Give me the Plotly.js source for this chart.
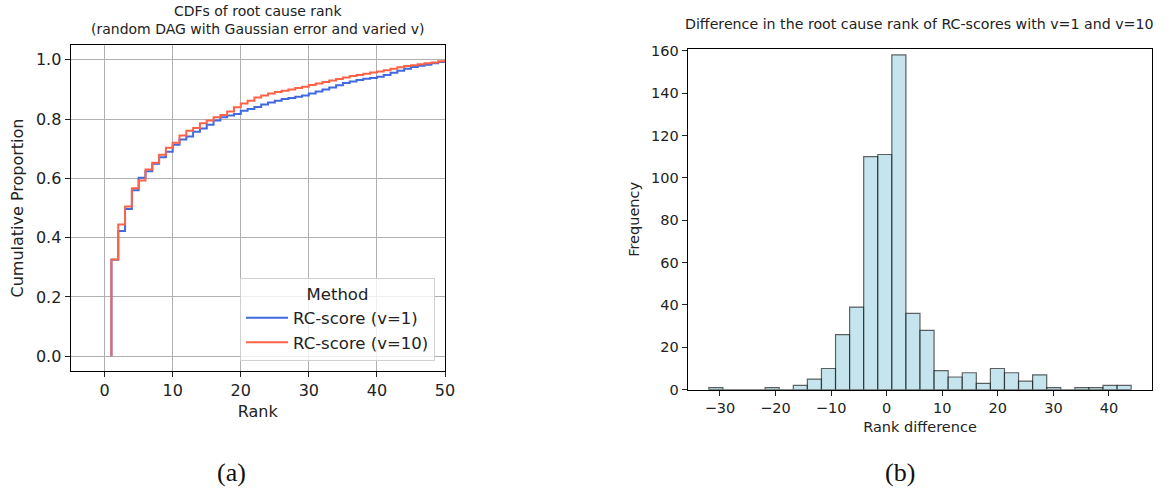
<!DOCTYPE html>
<html>
<head>
<meta charset="utf-8">
<script src="https://cdn.plot.ly/plotly-3.0.1.min.js"></script>
<style>
  html, body { margin: 0; padding: 0; background: #fff; }
  #chart { width: 1173px; height: 491px; }
</style>
</head>
<body>
<div id="chart"></div>
<script>
// Root cause rank (1..50) and empirical CDF for each RC-score setting
const ranks = [1, 2, 3, 4, 5, 6, 7, 8, 9, 10,
  11, 12, 13, 14, 15, 16, 17, 18, 19, 20,
  21, 22, 23, 24, 25, 26, 27, 28, 29, 30,
  31, 32, 33, 34, 35, 36, 37, 38, 39, 40,
  41, 42, 43, 44, 45, 46, 47, 48, 49, 50];

const cdfV1 = [0.325, 0.422, 0.497, 0.560, 0.602, 0.624, 0.649, 0.671, 0.690, 0.713,
  0.731, 0.741, 0.757, 0.768, 0.781, 0.795, 0.806, 0.812, 0.817, 0.828,
  0.834, 0.841, 0.849, 0.856, 0.862, 0.868, 0.871, 0.875, 0.880, 0.886,
  0.893, 0.900, 0.907, 0.914, 0.922, 0.927, 0.932, 0.936, 0.939, 0.943,
  0.949, 0.956, 0.963, 0.970, 0.976, 0.980, 0.983, 0.988, 0.993, 0.998];

const cdfV10 = [0.326, 0.444, 0.505, 0.567, 0.593, 0.630, 0.653, 0.680, 0.703, 0.720,
  0.745, 0.761, 0.770, 0.786, 0.795, 0.806, 0.814, 0.826, 0.840, 0.853,
  0.862, 0.873, 0.880, 0.886, 0.891, 0.896, 0.900, 0.905, 0.909, 0.915,
  0.920, 0.925, 0.930, 0.935, 0.940, 0.945, 0.949, 0.953, 0.957, 0.961,
  0.965, 0.970, 0.975, 0.979, 0.982, 0.985, 0.988, 0.991, 0.995, 1.000];

const seriesNames = ['RC-score (v=1)', 'RC-score (v=10)'];

// Histogram of rank differences: 30 equal bins between the min and max difference
const diffMin = -32;
const diffMax = 44;
const diffCounts = [1, 0, 0, 0, 1, 0, 2, 5, 10, 26,
  39, 110, 111, 158, 36, 28, 9, 6, 8, 3,
  10, 8, 4, 7, 1, 0, 1, 1, 2, 2];

const W = 1173, H = 491;
const px = v => v / W;
const py = v => 1 - v / H;

// ECDF drawn as a post-step line starting from zero at the first rank
function ecdfTrace(values, name, color) {
  return {
    type: 'scatter', mode: 'lines', name: name,
    x: [ranks[0]].concat(ranks),
    y: [0].concat(values),
    line: { shape: 'hv', color: color, width: 2 },
    xaxis: 'x', yaxis: 'y'
  };
}

const binWidth = (diffMax - diffMin) / diffCounts.length;
const binCenters = diffCounts.map((_, i) => diffMin + (i + 0.5) * binWidth);

const traces = [
  ecdfTrace(cdfV1, seriesNames[0], '#4169E1'),
  ecdfTrace(cdfV10, seriesNames[1], '#FF6347'),
  {
    type: 'bar', x: binCenters, y: diffCounts, width: binWidth,
    marker: { color: 'rgba(173,216,230,0.7)', line: { color: 'rgba(0,0,0,0.6)', width: 1.2 } },
    showlegend: false, xaxis: 'x2', yaxis: 'y2'
  }
];

const tickFont16 = { family: 'DejaVu Sans', size: 16, color: '#222' };
const tickFont14 = { family: 'DejaVu Sans', size: 14.5, color: '#222' };

const frame = {
  showline: true, mirror: true, linecolor: '#000', linewidth: 1,
  ticks: 'outside', ticklen: 5, tickwidth: 1, tickcolor: '#222',
  zeroline: false
};

const layout = {
  width: W, height: H,
  margin: { l: 0, r: 0, t: 0, b: 0 },
  paper_bgcolor: '#fff', plot_bgcolor: '#fff',
  font: { family: 'DejaVu Sans', color: '#222' },
  showlegend: true,
  xaxis: Object.assign({}, frame, {
    domain: [px(70.6), px(445)], range: [-5, 50],
    tickvals: [0, 10, 20, 30, 40, 50],
    showgrid: true, gridcolor: '#b0b0b0', gridwidth: 1,
    tickfont: tickFont16,
    title: { text: 'Rank', font: { family: 'DejaVu Sans', size: 16, color: '#222' }, standoff: 6 },
    anchor: 'y'
  }),
  yaxis: Object.assign({}, frame, {
    domain: [1 - 371 / H, 1 - 45 / H], range: [-0.05, 1.05],
    tickvals: [0, 0.2, 0.4, 0.6, 0.8, 1.0], tickformat: '.1f',
    showgrid: true, gridcolor: '#b0b0b0', gridwidth: 1,
    tickfont: tickFont16,
    title: { text: 'Cumulative Proportion', font: { family: 'DejaVu Sans', size: 16, color: '#222' }, standoff: 8 },
    anchor: 'x'
  }),
  xaxis2: Object.assign({}, frame, {
    domain: [px(687.7), px(1152.3)], range: [-35.8, 47.8],
    tickvals: [-30, -20, -10, 0, 10, 20, 30, 40],
    showgrid: false, tickfont: tickFont14,
    title: { text: 'Rank difference', font: { family: 'DejaVu Sans', size: 14.5, color: '#222' }, standoff: 6 },
    anchor: 'y2'
  }),
  yaxis2: Object.assign({}, frame, {
    domain: [1 - 389.7 / H, 1 - 49 / H], range: [0, 160.8],
    tickvals: [0, 20, 40, 60, 80, 100, 120, 140, 160],
    showgrid: false, tickfont: tickFont14,
    title: { text: 'Frequency', font: { family: 'DejaVu Sans', size: 14.5, color: '#222' }, standoff: 8 },
    anchor: 'x2'
  }),
  legend: {
    x: px(240), y: py(278), xanchor: 'left', yanchor: 'top',
    bgcolor: 'rgba(255,255,255,0.8)', bordercolor: '#d0d0d0', borderwidth: 1,
    font: { family: 'DejaVu Sans', size: 16.5, color: '#222' },
    title: { text: 'Method', side: 'top center', font: { family: 'DejaVu Sans', size: 16.5, color: '#222' } },
    itemwidth: 42,
    tracegroupgap: 0
  },
  annotations: [
    {
      text: 'CDFs of root cause rank<br>(random DAG with Gaussian error and varied v)',
      xref: 'paper', yref: 'paper', x: px(257.8), y: py(39),
      xanchor: 'center', yanchor: 'bottom', showarrow: false,
      font: { family: 'DejaVu Sans', size: 14, color: '#222' }
    },
    {
      text: 'Difference in the root cause rank of RC-scores with v=1 and v=10',
      xref: 'paper', yref: 'paper', x: px(919), y: py(24),
      xanchor: 'center', yanchor: 'middle', showarrow: false,
      font: { family: 'DejaVu Sans', size: 14.2, color: '#222' }
    },
    {
      text: '(a)', xref: 'paper', yref: 'paper', x: px(231.7), y: py(472),
      xanchor: 'center', yanchor: 'middle', showarrow: false,
      font: { family: 'Liberation Serif', size: 26, color: '#111' }
    },
    {
      text: '(b)', xref: 'paper', yref: 'paper', x: px(900), y: py(472),
      xanchor: 'center', yanchor: 'middle', showarrow: false,
      font: { family: 'Liberation Serif', size: 26, color: '#111' }
    }
  ]
};

Plotly.newPlot('chart', traces, layout, { staticPlot: true, displayModeBar: false });
</script>
</body>
</html>
